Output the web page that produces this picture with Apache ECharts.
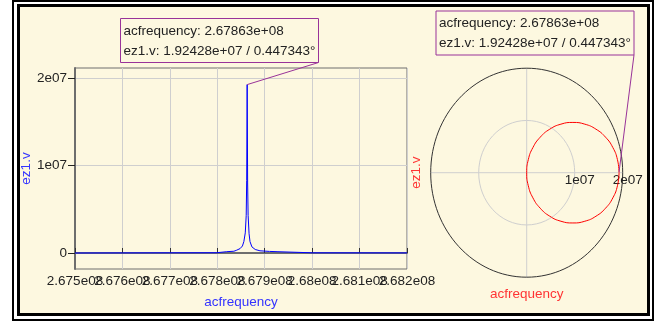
<!DOCTYPE html>
<html>
<head>
<meta charset="utf-8">
<script src="https://cdn.jsdelivr.net/npm/echarts@6/dist/echarts.min.js"></script>
<style>
  html, body { margin: 0; padding: 0; background: #fff; }
  #chart { width: 666px; height: 321px; }
</style>
</head>
<body>
<div id="chart"></div>
<script>
// frequency sweep (Hz) and |ez1.v|
var freqs = [2.6750e8, 2.6760e8, 2.6770e8, 2.67799e8, 2.67800e8, 2.67820e8, 2.67835e8, 2.67840e8,
             2.67848e8, 2.67853e8, 2.67856e8, 2.67859e8, 2.67861e8, 2.67862e8, 2.67863e8, 2.67864e8,
             2.67865e8, 2.67867e8, 2.67869e8, 2.67873e8, 2.67880e8, 2.67890e8, 2.67910e8, 2.67926e8,
             2.67927e8, 2.6800e8, 2.6820e8];
var ez1Mag = [0, 0.1e5, 0.2e5, 0.3e5, 1.2e5, 1.5e5, 2.0e5, 3.0e5,
              5.0e5, 8.0e5, 1.3e6, 2.3e6, 4.3e6, 8.3e6, 1.92428e7, 8.0e6,
              4.3e6, 2.2e6, 1.3e6, 7.0e5, 4.0e5, 2.5e5, 1.8e5, 1.5e5,
              0.3e5, 0.2e5, 0.1e5];
var xTickLabels = ['2.675e08', '2.676e08', '2.677e08', '2.678e08', '2.679e08', '2.68e08', '2.681e08', '2.682e08'];
var yTickValues = [0, 1e7, 2e7];
var yTickLabels = ['0', '1e07', '2e07'];

var polarRe = [1.924, 1.891, 1.795, 1.642, 1.443, 1.211, 0.962, 0.713, 0.481, 0.282, 0.129, 0.033, 0,
               0.033, 0.129, 0.282, 0.481, 0.713, 0.962, 1.211, 1.443, 1.642, 1.795, 1.891, 1.924];
var polarIm = [0, 0.249, 0.481, 0.680, 0.833, 0.929, 0.962, 0.929, 0.833, 0.680, 0.481, 0.249, 0,
               -0.249, -0.481, -0.680, -0.833, -0.929, -0.962, -0.929, -0.833, -0.680, -0.481, -0.249, 0];
var polarRings = [1e7, 2e7];
var polarTickLabels = ['1e07', '2e07'];

// marker
var peakFreq = 2.67863e8, peakMag = 1.92428e7, peakPhase = 0.447343;
var calloutLines = ['acfrequency: 2.67863e+08', 'ez1.v: 1.92428e+07 / 0.447343\u00b0'];

var FONT = '"Liberation Sans", Arial, sans-serif';
var CREAM = '#fdf8e0';
var MARK = '#993399';
var X_MIN = 2.675e8, X_MAX = 2.682e8, Y_MIN = -1.83e6, Y_MAX = 2.114e7;

var lineData = freqs.map(function (f, i) { return [f, ez1Mag[i]]; });
var polarData = polarRe.map(function (r, i) { return [r * 1e7, polarIm[i] * 1e7]; });
var rad = peakPhase * Math.PI / 180;
var polarPeak = [peakMag * Math.cos(rad), peakMag * Math.sin(rad)];
var rMax = polarRings[polarRings.length - 1];

function callout(box) {
    return function (params, api) {
        var p = api.coord([api.value(0), api.value(1)]);
        return {
            type: 'group',
            children: [
                { type: 'polyline', shape: { points: [[box.x + box.w, box.y + box.h], p] },
                  style: { stroke: MARK, lineWidth: 1, fill: null } },
                { type: 'rect', shape: { x: box.x, y: box.y, width: box.w, height: box.h },
                  style: { fill: CREAM, stroke: MARK, lineWidth: 1 } },
                { type: 'text', style: { text: calloutLines[0], x: box.x + 3, y: box.y + 12.5, fill: '#222',
                  fontSize: 13.5, fontFamily: FONT, verticalAlign: 'middle' } },
                { type: 'text', style: { text: calloutLines[1], x: box.x + 3, y: box.y + 32.5, fill: '#222',
                  fontSize: 13.5, fontFamily: FONT, verticalAlign: 'middle' } }
            ]
        };
    };
}

// polar frame: rings, cross hair and radius labels, all through the axes' scales
function polarFrame(params, api) {
    var r = api.value(0);
    var c = api.coord([0, 0]);
    var s = api.size([r, r]);
    var children = [
        { type: 'ellipse', shape: { cx: c[0], cy: c[1], rx: s[0], ry: s[1] },
          style: { fill: null, stroke: r < rMax ? '#cfcfcf' : '#333', lineWidth: 1 } },
        { type: 'text', style: { text: polarTickLabels[params.dataIndex], x: c[0] + s[0] + 5, y: c[1] + 8,
          fill: '#222', fontSize: 13.5, fontFamily: FONT, align: 'center', verticalAlign: 'middle' } }
    ];
    if (r === rMax) {
        children.unshift(
            { type: 'line', shape: { x1: c[0] - s[0], y1: c[1], x2: c[0] + s[0], y2: c[1] },
              style: { stroke: '#cfcfcf', lineWidth: 1 } },
            { type: 'line', shape: { x1: c[0], y1: c[1] - s[1], x2: c[0], y2: c[1] + s[1] },
              style: { stroke: '#cfcfcf', lineWidth: 1 } }
        );
    }
    return { type: 'group', children: children };
}

// x tick labels of the left plot; they overlap in the original, so drawn without overlap hiding
function xTickText(params, api) {
    var p = api.coord([api.value(0), Y_MIN]);
    return { type: 'text', style: { text: xTickLabels[params.dataIndex], x: p[0], y: p[1] + 5,
        fill: '#222', fontSize: 13.5, fontFamily: FONT, align: 'center', verticalAlign: 'top' } };
}

var chart = echarts.init(document.getElementById('chart'), null, { renderer: 'canvas' });
chart.setOption({
    animation: false,
    textStyle: { fontFamily: FONT },
    graphic: { elements: [
        { type: 'rect', z: -100, shape: { x: 13, y: 1, width: 640, height: 319 },
          style: { fill: '#fff', stroke: '#000', lineWidth: 2 } },
        { type: 'rect', z: -99, shape: { x: 18.5, y: 5.5, width: 630, height: 309 },
          style: { fill: CREAM, stroke: '#000', lineWidth: 3 } }
    ] },
    grid: [
        { left: 75, top: 68, width: 332, height: 201, show: true, borderColor: '#6e6e6e', borderWidth: 1,
          outerBoundsMode: 'none', containLabel: false },
        { left: 430.7, top: 68.2, width: 192, height: 209, outerBoundsMode: 'none', containLabel: false }
    ],
    xAxis: [
        {
            type: 'value', gridIndex: 0, min: X_MIN, max: X_MAX, interval: 1e5,
            name: 'acfrequency', nameLocation: 'middle', nameGap: 26,
            nameTextStyle: { color: '#3333ff', fontSize: 13.5 },
            axisLine: { lineStyle: { color: '#6e6e6e', width: 2 } },
            axisTick: { inside: true, length: 5, lineStyle: { color: '#333' } },
            axisLabel: { show: false },
            splitLine: { show: true, lineStyle: { color: '#cfcfcf' } }
        },
        {
            type: 'value', gridIndex: 1, min: -rMax, max: rMax,
            name: 'acfrequency', nameLocation: 'middle', nameGap: 10,
            nameTextStyle: { color: '#ff3333', fontSize: 13.5 },
            axisLine: { show: false, onZero: false },
            axisTick: { show: false },
            axisLabel: { show: false },
            splitLine: { show: false }
        }
    ],
    yAxis: [
        {
            type: 'value', gridIndex: 0, min: Y_MIN, max: Y_MAX,
            name: 'ez1.v', nameLocation: 'middle', nameGap: 40,
            nameTextStyle: { color: '#3333ff', fontSize: 13.5 },
            axisLine: { show: true, lineStyle: { color: '#6e6e6e', width: 2 } },
            axisTick: { show: true, length: 7, customValues: yTickValues, lineStyle: { color: '#222' } },
            axisLabel: { color: '#222', fontSize: 13.5, margin: 8, customValues: yTickValues,
                formatter: function (v) { return yTickLabels[yTickValues.indexOf(v)]; } },
            splitLine: { show: true, lineStyle: { color: '#cfcfcf' } }
        },
        {
            type: 'value', gridIndex: 1, min: -rMax, max: rMax,
            name: 'ez1.v', nameLocation: 'middle', nameGap: 7,
            nameTextStyle: { color: '#ff3333', fontSize: 13.5 },
            axisLine: { show: false, onZero: false },
            axisTick: { show: false },
            axisLabel: { show: false },
            splitLine: { show: false }
        }
    ],
    series: [
        {
            type: 'line', xAxisIndex: 0, yAxisIndex: 0, data: lineData,
            showSymbol: false, lineStyle: { color: '#0000ff', width: 1 }, z: 3
        },
        {
            type: 'custom', xAxisIndex: 0, yAxisIndex: 0, clip: false, z: 2,
            data: xTickLabels.map(function (t) { return [parseFloat(t), Y_MIN]; }),
            renderItem: xTickText
        },
        {
            type: 'custom', xAxisIndex: 1, yAxisIndex: 1, clip: false, z: 1,
            data: polarRings.map(function (r) { return [r, 0]; }),
            renderItem: polarFrame
        },
        {
            type: 'line', xAxisIndex: 1, yAxisIndex: 1, data: polarData, smooth: true,
            showSymbol: false, lineStyle: { color: '#ff0000', width: 1 }, z: 3
        },
        {
            type: 'custom', xAxisIndex: 0, yAxisIndex: 0, clip: false, z: 5,
            data: [[peakFreq, peakMag]],
            renderItem: callout({ x: 120.5, y: 18.5, w: 198, h: 44 })
        },
        {
            type: 'custom', xAxisIndex: 1, yAxisIndex: 1, clip: false, z: 5,
            data: [polarPeak],
            renderItem: callout({ x: 436, y: 11, w: 198, h: 44 })
        }
    ]
});
</script>
</body>
</html>
